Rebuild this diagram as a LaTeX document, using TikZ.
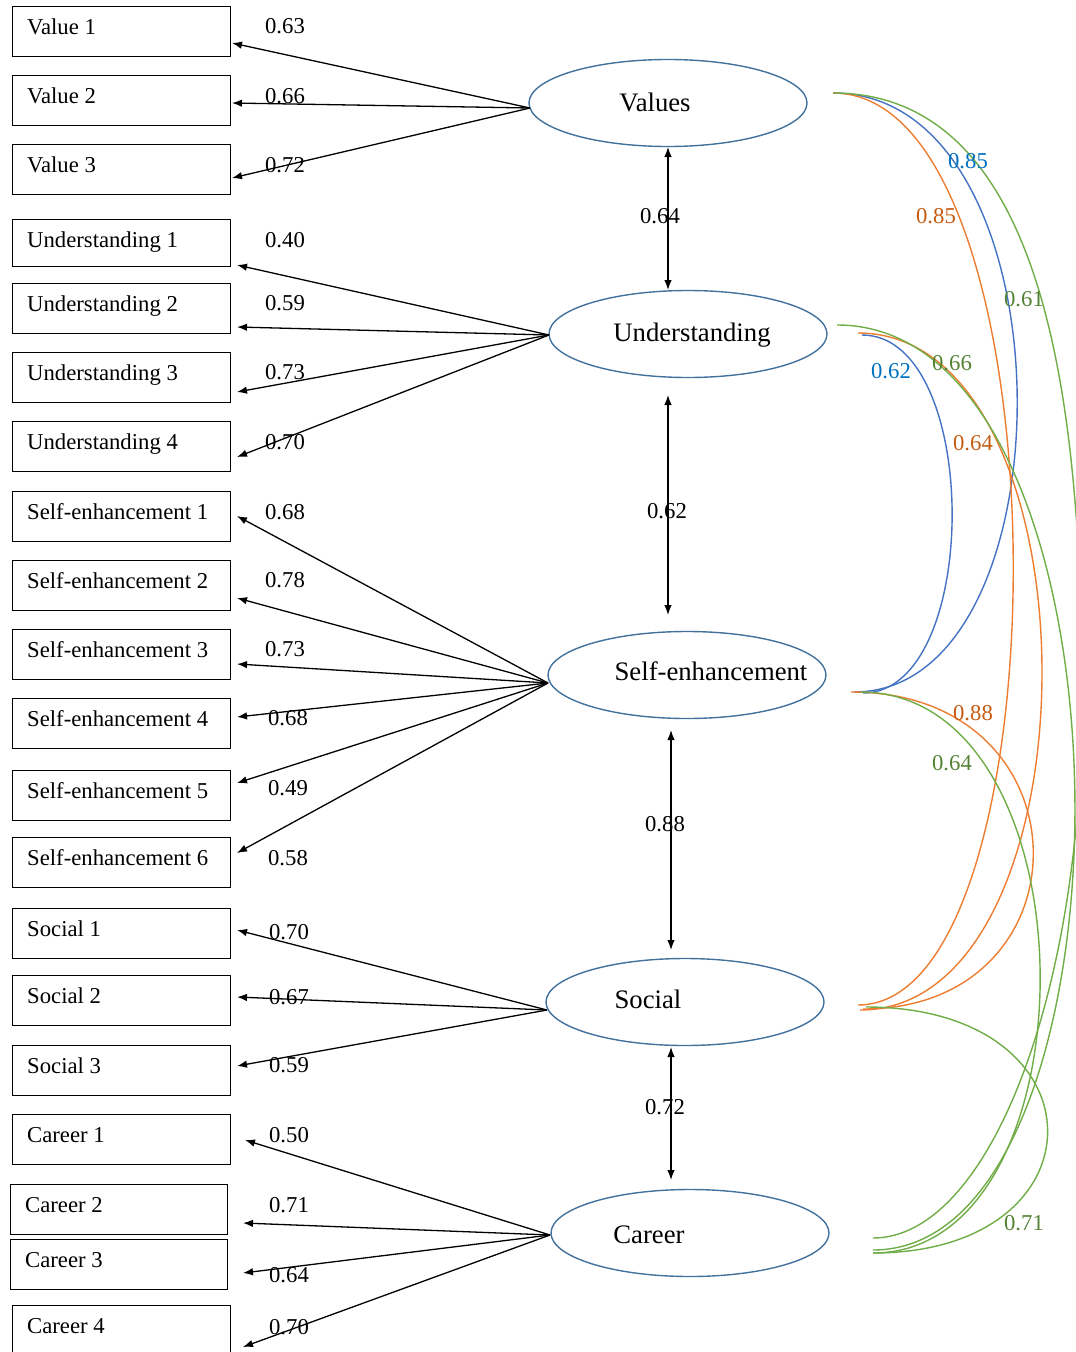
\documentclass[tikz,border=0pt]{standalone}
\usepackage{fontspec}
\setmainfont{Liberation Serif}
\usetikzlibrary{arrows.meta,shapes.geometric}

\definecolor{ellblue}{RGB}{65,113,156}
\definecolor{cblue}{RGB}{68,114,196}
\definecolor{corange}{RGB}{237,125,49}
\definecolor{cgreen}{RGB}{112,173,71}
\definecolor{tblue}{RGB}{0,112,192}
\definecolor{torange}{RGB}{197,90,17}
\definecolor{tgreen}{RGB}{84,130,53}

\newcommand\itemfnt{\fontsize{22.7pt}{27pt}\selectfont}
\newcommand\latfnt{\fontsize{26.7pt}{32pt}\selectfont}

\tikzset{
  item/.style={draw=black, line width=1.4pt, minimum width=218pt, minimum height=50pt,
               inner sep=0pt, anchor=north west},
  itemtext/.style={font=\itemfnt, anchor=base west, inner sep=0pt},
  latent/.style={ellipse, draw=ellblue, line width=1.4pt, minimum width=278pt,
                 minimum height=87pt, inner sep=0pt},
  lattext/.style={font=\latfnt, anchor=base, inner sep=0pt},
  load/.style={-{Latex[length=10pt,width=7.5pt]}, line width=1.3pt},
  cov/.style={{Latex[length=10pt,width=7.5pt]}-{Latex[length=10pt,width=7.5pt]}, line width=1.3pt},
  num/.style={font=\itemfnt, inner sep=0pt},
  corr/.style={line width=1.4pt},
}

\begin{document}
\begin{tikzpicture}[x=1pt,y=-1pt]
\useasboundingbox (0,0) rectangle (1076,1352);

% ---------- observed indicators ----------
\node[item] (v1) at (12,6) {};    \node[itemtext] (v1t) at (27,34) {Value 1};
\node[item] (v2) at (12,75) {};   \node[itemtext] (v2t) at (27,103) {Value 2};
\node[item] (v3) at (12,144) {};  \node[itemtext] (v3t) at (27,172) {Value 3};

\node[item, minimum height=47pt] (u1) at (12,219) {}; \node[itemtext] (u1t) at (27,247) {Understanding 1};
\node[item] (u2) at (12,283) {};  \node[itemtext] (u2t) at (27,311) {Understanding 2};
\node[item] (u3) at (12,352) {};  \node[itemtext] (u3t) at (27,380) {Understanding 3};
\node[item] (u4) at (12,421) {};  \node[itemtext] (u4t) at (27,449) {Understanding 4};

\node[item] (s1) at (12,491) {};  \node[itemtext] (s1t) at (27,519) {Self-enhancement 1};
\node[item] (s2) at (12,560) {};  \node[itemtext] (s2t) at (27,588) {Self-enhancement 2};
\node[item] (s3) at (12,629) {};  \node[itemtext] (s3t) at (27,657) {Self-enhancement 3};
\node[item] (s4) at (12,698) {};  \node[itemtext] (s4t) at (27,726) {Self-enhancement 4};
\node[item] (s5) at (12,770) {};  \node[itemtext] (s5t) at (27,798) {Self-enhancement 5};
\node[item] (s6) at (12,837) {};  \node[itemtext] (s6t) at (27,865) {Self-enhancement 6};

\node[item] (o1) at (12,908) {};  \node[itemtext] (o1t) at (27,936) {Social 1};
\node[item] (o2) at (12,975) {};  \node[itemtext] (o2t) at (27,1003) {Social 2};
\node[item] (o3) at (12,1045) {}; \node[itemtext] (o3t) at (27,1073) {Social 3};

\node[item] (c1) at (12,1114) {}; \node[itemtext] (c1t) at (27,1142) {Career 1};
\node[item, minimum width=217pt] (c2) at (10,1184) {}; \node[itemtext] (c2t) at (25,1212) {Career 2};
\node[item, minimum width=217pt] (c3) at (10,1239) {}; \node[itemtext] (c3t) at (25,1267) {Career 3};
\node[item] (c4) at (12,1305) {}; \node[itemtext] (c4t) at (27,1333) {Career 4};

% ---------- latent factors ----------
\node[latent] (val) at (668,103) {};  \node[lattext] (valt) at (655,111) {Values};
\node[latent] (und) at (688,334) {};  \node[lattext] (undt) at (692,341) {Understanding};
\node[latent] (se)  at (687,675) {};  \node[lattext] (set)  at (711,680) {Self-enhancement};
\node[latent] (soc) at (685,1002) {}; \node[lattext] (soct) at (648,1008) {Social};
\node[latent] (car) at (690,1233) {}; \node[lattext] (cart) at (649,1243) {Career};

% hubs where the loading arrows leave each factor
\coordinate (valH) at (530,108);
\coordinate (undH) at (549,335);
\coordinate (seH)  at (548,683);
\coordinate (socH) at (547,1010);
\coordinate (carH) at (550,1235);

% arrow tips beside the indicators
\coordinate (v1p) at (232,43);  \coordinate (v2p) at (232,103); \coordinate (v3p) at (232,178);
\coordinate (u1p) at (237,265); \coordinate (u2p) at (237,327); \coordinate (u3p) at (237,392); \coordinate (u4p) at (237,457);
\coordinate (s1p) at (237,516); \coordinate (s2p) at (237,598); \coordinate (s3p) at (237,664);
\coordinate (s4p) at (237,717); \coordinate (s5p) at (237,783); \coordinate (s6p) at (237,853);
\coordinate (o1p) at (237,930); \coordinate (o2p) at (237,997); \coordinate (o3p) at (237,1066);
\coordinate (c1p) at (245,1140); \coordinate (c2p) at (243,1223); \coordinate (c3p) at (243,1273); \coordinate (c4p) at (243,1347);

% ---------- factor loadings ----------
\foreach \t in {v1p,v2p,v3p} \draw[load] (valH) -- (\t);
\foreach \t in {u1p,u2p,u3p,u4p} \draw[load] (undH) -- (\t);
\foreach \t in {s1p,s2p,s3p,s4p,s5p,s6p} \draw[load] (seH) -- (\t);
\foreach \t in {o1p,o2p,o3p} \draw[load] (socH) -- (\t);
\foreach \t in {c1p,c2p,c3p,c4p} \draw[load] (carH) -- (\t);

\node[num] (lv1) at (285,26)  {0.63};
\node[num] (lv2) at (285,96)  {0.66};
\node[num] (lv3) at (285,165) {0.72};
\node[num] (lu1) at (285,240) {0.40};
\node[num] (lu2) at (285,303) {0.59};
\node[num] (lu3) at (285,372) {0.73};
\node[num] (lu4) at (285,442) {0.70};
\node[num] (ls1) at (285,512) {0.68};
\node[num] (ls2) at (285,580) {0.78};
\node[num] (ls3) at (285,649) {0.73};
\node[num] (ls4) at (288,718) {0.68};
\node[num] (ls5) at (288,788) {0.49};
\node[num] (ls6) at (288,858) {0.58};
\node[num] (lo1) at (289,932) {0.70};
\node[num] (lo2) at (289,997) {0.67};
\node[num] (lo3) at (289,1065) {0.59};
\node[num] (lc1) at (289,1135) {0.50};
\node[num] (lc2) at (289,1205) {0.71};
\node[num] (lc3) at (289,1275) {0.64};
\node[num] (lc4) at (289,1327) {0.70};

% ---------- correlations between neighbouring factors ----------
\coordinate (vuA) at (668,147);  \coordinate (vuB) at (668,290);
\coordinate (usA) at (668,395);  \coordinate (usB) at (668,615);
\coordinate (ssA) at (671,730);  \coordinate (ssB) at (671,950);
\coordinate (scA) at (671,1047); \coordinate (scB) at (671,1180);
\draw[cov] (vuA) -- (vuB);
\draw[cov] (usA) -- (usB);
\draw[cov] (ssA) -- (ssB);
\draw[cov] (scA) -- (scB);
\node[num] (rvu) at (660,216)  {0.64};
\node[num] (rus) at (667,511)  {0.62};
\node[num] (rss) at (665,824)  {0.88};
\node[num] (rsc) at (665,1107) {0.72};

% ---------- correlations between distant factors ----------
\coordinate (valR)  at (833,93);
\coordinate (undRg) at (837,325);
\coordinate (undRo) at (858,333);
\coordinate (undRb) at (862,335);
\coordinate (seRo)  at (851,692);
\coordinate (seRb)  at (854,692);
\coordinate (seRb2) at (863,693);
\coordinate (seRg)  at (860,692);
\coordinate (socRo1) at (858,1005);
\coordinate (socRo2) at (860,1010);
\coordinate (socRo3) at (863,1009);
\coordinate (socRg) at (866,1007);
\coordinate (carR1) at (873,1238);
\coordinate (carR2) at (873,1250);
\coordinate (carR3) at (873,1253);
% outermost turning point of the Values--Career arc
\coordinate (vcPeak) at (1082,700);

\draw[corr, cblue]   (valR)  .. controls (1075,93)  and (1075,692)  .. (seRb);
\draw[corr, corange] (valR)  .. controls (1069,93)  and (1069,1005) .. (socRo1);
\draw[corr, cgreen]  (valR)  .. controls (1053,93)  and (1082,427)  .. (vcPeak)
                             .. controls (1082,996) and (988,1238)  .. (carR1);
\draw[corr, cblue]   (undRb) .. controls (982,335)  and (982,693)   .. (seRb2);
\draw[corr, corange] (undRo) .. controls (1103,333) and (1103,1010) .. (socRo2);
\draw[corr, cgreen]  (undRg) .. controls (1148,325) and (1148,1250) .. (carR2);
\draw[corr, corange] (seRo)  .. controls (1092,692) and (1092,1009) .. (socRo3);
\draw[corr, cgreen]  (seRg)  .. controls (1098,692) and (1098,1253) .. (carR3);
\draw[corr, cgreen]  (socRg) .. controls (1107,1007) and (1107,1253) .. (carR3);

\node[num, text=tblue]   (k1) at (968,161)  {0.85};
\node[num, text=torange] (k2) at (936,216)  {0.85};
\node[num, text=tgreen]  (k3) at (1024,299) {0.61};
\node[num, text=tblue]   (k4) at (891,371)  {0.62};
\node[num, text=tgreen]  (k5) at (952,363)  {0.66};
\node[num, text=torange] (k6) at (973,443)  {0.64};
\node[num, text=torange] (k7) at (973,713)  {0.88};
\node[num, text=tgreen]  (k8) at (952,763)  {0.64};
\node[num, text=tgreen]  (k9) at (1024,1223) {0.71};
\end{tikzpicture}
\end{document}
